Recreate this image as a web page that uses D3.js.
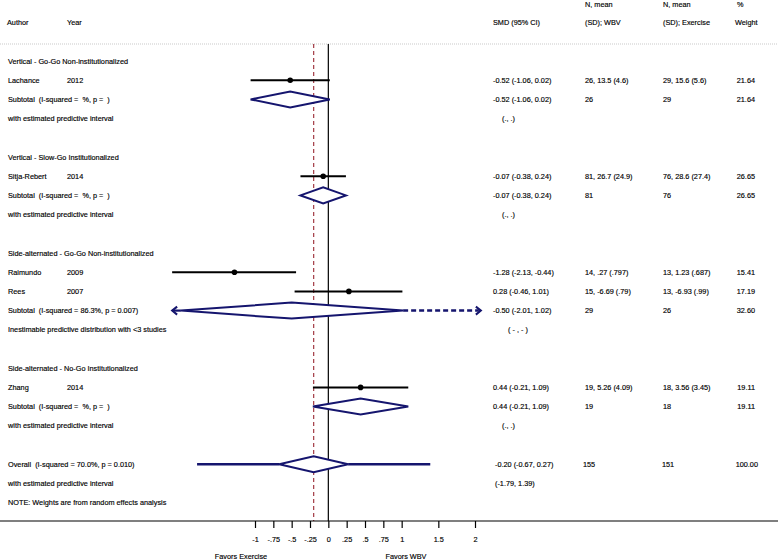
<!DOCTYPE html>
<html><head><meta charset="utf-8">
<script src="https://cdn.jsdelivr.net/npm/d3@7"></script>
<style>
html,body{margin:0;padding:0;background:#fff;}
svg text{font-family:"Liberation Sans",Arial,sans-serif;font-size:7.3px;fill:#000;stroke:#000;stroke-width:0.15px;white-space:pre;}
</style></head>
<body><svg id="chart" width="778" height="560"></svg>
<script>
// ---- data ----
const groupNames = ["Vertical - Go-Go Non-institutionalized","Vertical - Slow-Go Institutionalized","Side-alternated - Go-Go Non-institutionalized","Side-alternated - No-Go Institutionalized"];
const groupRow = [0,5,10,16];

const authors = ["Lachance","Sitja-Rebert","Raimundo","Rees","Zhang"];
const years = ["2012","2014","2009","2007","2014"];
const studySmd = [-0.52,-0.07,-1.28,0.28,0.44];
const studyLo = [-1.06,-0.38,-2.13,-0.46,-0.21];
const studyHi = [0.02,0.24,-0.44,1.01,1.09];
const studyWbv = ["26, 13.5 (4.6)","81, 26.7 (24.9)","14, .27 (.797)","15, -6.69 (.79)","19, 5.26 (4.09)"];
const studyEx = ["29, 15.6 (5.6)","76, 28.6 (27.4)","13, 1.23 (.687)","13, -6.93 (.99)","18, 3.56 (3.45)"];
const studyWeight = ["21.64","26.65","15.41","17.19","19.11"];
const studyRow = [1,6,11,12,17];

const subLabels = ["Subtotal  (I-squared =  %, p =  )","Subtotal  (I-squared =  %, p =  )","Subtotal  (I-squared = 86.3%, p = 0.007)","Subtotal  (I-squared =  %, p =  )"];
const subSmd = [-0.52,-0.07,-0.50,0.44];
const subLo = [-1.06,-0.38,-2.01,-0.21];
const subHi = [0.02,0.24,1.02,1.09];
const subWbv = ["26","81","29","19"];
const subEx = ["29","76","26","18"];
const subWeight = ["21.64","26.65","32.60","19.11"];
const subRow = [2,7,13,18];

const predLabels = ["with estimated predictive interval","with estimated predictive interval","Inestimable predictive distribution with <3 studies","with estimated predictive interval"];
const predTexts = ["(., .)","(., .)","( - , - )","(., .)"];
const predRow = [3,8,14,19];

const overallLabel = "Overall  (I-squared = 70.0%, p = 0.010)";
const overall = {smd:-0.20, lo:-0.67, hi:0.27, predLo:-1.79, predHi:1.39, wbv:"155", ex:"151", weight:"100.00", row:21};
const overallPredLabel = "with estimated predictive interval";
const noteText = "NOTE: Weights are from random effects analysis";

const tickValues = [-1,-0.75,-0.5,-0.25,0,0.25,0.5,0.75,1,1.5,2];
const tickLabels = ["-1","-.75","-.5","-.25","0",".25",".5",".75","1","1.5","2"];

// ---- layout ----
const svg = d3.select("#chart");
const x = d3.scaleLinear().domain([-1,2]).range([255,475]);
const y = d3.scaleLinear().domain([0,23]).range([61,502.6]);
const plotMin = -2.13, plotMax = 2.08;
const navy = "#15156e";
const f2 = v => d3.format(".2f")(v).replace("\u2212","-");
const ciText = (s,l,h)=>`${f2(s)} (${f2(l)}, ${f2(h)})`;
const colSmd = 493, colWbv = 585, colEx = 663, colW = 755;
const axisY = 521, topY = 44;

function txt(t, xx, yy, anchor){
  svg.append("text").attr("x",xx).attr("y",yy).attr("dy","0.35em")
    .attr("xml:space","preserve")
    .attr("text-anchor",anchor||"start").text(t);
}

// header
txt("Author",7,22); txt("Year",67,22);
txt("SMD (95% CI)",493,22);
txt("N, mean",585,4); txt("(SD); WBV",585,22);
txt("N, mean",663,4); txt("(SD); Exercise",663,22);
txt("%",737,4); txt("Weight",735,22);
svg.append("line").attr("x1",0).attr("x2",778).attr("y1",topY).attr("y2",topY)
  .attr("stroke","#bbb").attr("stroke-width",0.8).attr("stroke-dasharray","1,1");

// vertical reference lines
svg.append("line").attr("x1",x(0)).attr("x2",x(0)).attr("y1",topY).attr("y2",axisY)
  .attr("stroke","#000").attr("stroke-width",1.2);
svg.append("line").attr("x1",x(overall.smd)).attr("x2",x(overall.smd)).attr("y1",topY).attr("y2",axisY)
  .attr("stroke","#a33a44").attr("stroke-width",1.2).attr("stroke-dasharray","4,3");

// groups
groupNames.forEach((g,i)=>txt(g,8,y(groupRow[i])));

// studies
authors.forEach((a,i)=>{
  const yy = y(studyRow[i]);
  txt(a,8,yy); txt(years[i],67,yy);
  svg.append("line").attr("x1",x(Math.max(studyLo[i],plotMin))).attr("x2",x(studyHi[i]))
    .attr("y1",yy).attr("y2",yy).attr("stroke","#000").attr("stroke-width",2);
  svg.append("circle").attr("cx",x(studySmd[i])).attr("cy",yy).attr("r",2.8).attr("fill","#000");
  txt(ciText(studySmd[i],studyLo[i],studyHi[i]),colSmd,yy);
  txt(studyWbv[i],colWbv,yy); txt(studyEx[i],colEx,yy);
  txt(studyWeight[i],colW,yy,"end");
});

function diamond(s,l,h,yy,hh){
  const pts = [[x(l),yy],[x(s),yy-hh],[x(h),yy],[x(s),yy+hh]];
  svg.append("path").attr("d","M"+pts.join("L")+"Z").attr("fill","#fff")
    .attr("stroke",navy).attr("stroke-width",2).attr("stroke-linejoin","miter");
}

// subtotals
subLabels.forEach((lab,i)=>{
  const yy = y(subRow[i]);
  txt(lab,8,yy);
  diamond(subSmd[i],subLo[i],subHi[i],yy,8);
  if(subLo[i] < -2){
    svg.append("line").attr("x1",x(plotMin)).attr("x2",x(subLo[i])).attr("y1",yy).attr("y2",yy)
      .attr("stroke",navy).attr("stroke-width",2.2);
    svg.append("path").attr("d",`M${x(plotMin)+5},${yy-4}L${x(plotMin)},${yy}L${x(plotMin)+5},${yy+4}`)
      .attr("fill","none").attr("stroke",navy).attr("stroke-width",2);
    svg.append("line").attr("x1",x(subHi[i])).attr("x2",x(plotMax)-2).attr("y1",yy).attr("y2",yy)
      .attr("stroke",navy).attr("stroke-width",2.5).attr("stroke-dasharray","5,3");
    svg.append("path").attr("d",`M${x(plotMax)-5},${yy-4}L${x(plotMax)},${yy}L${x(plotMax)-5},${yy+4}`)
      .attr("fill","none").attr("stroke",navy).attr("stroke-width",2);
  }
  txt(ciText(subSmd[i],subLo[i],subHi[i]),colSmd,yy);
  txt(subWbv[i],colWbv,yy); txt(subEx[i],colEx,yy);
  txt(subWeight[i],colW,yy,"end");
});

// predictive rows
predLabels.forEach((lab,i)=>{
  const yy = y(predRow[i]);
  txt(lab,8,yy);
  txt(predTexts[i], i===2 ? 508 : 502, yy);
});

// overall
{
  const yy = y(overall.row);
  txt(overallLabel,8,yy);
  svg.append("line").attr("x1",x(overall.predLo)).attr("x2",x(overall.lo)).attr("y1",yy).attr("y2",yy)
    .attr("stroke",navy).attr("stroke-width",2.5);
  svg.append("line").attr("x1",x(overall.hi)).attr("x2",x(overall.predHi)).attr("y1",yy).attr("y2",yy)
    .attr("stroke",navy).attr("stroke-width",2.5);
  diamond(overall.smd,overall.lo,overall.hi,yy,8);
  txt(ciText(overall.smd,overall.lo,overall.hi),495,yy);
  txt(overall.wbv,583,yy); txt(overall.ex,662,yy); txt(overall.weight,colW+3,yy,"end");
  const y2 = y(overall.row+1);
  txt(overallPredLabel,8,y2);
  txt(`(${f2(overall.predLo)}, ${f2(overall.predHi)})`,495,y2);
  txt(noteText,8,y(23));
}

// axis
svg.append("line").attr("x1",0).attr("x2",778).attr("y1",axisY).attr("y2",axisY)
  .attr("stroke","#000").attr("stroke-width",1.2);
const axis = d3.axisBottom(x).tickValues(tickValues)
  .tickFormat((d,i)=>tickLabels[i]).tickSize(7).tickPadding(9);
const g = svg.append("g").attr("transform",`translate(0,${axisY})`).call(axis);
g.select(".domain").remove();
g.selectAll(".tick line").attr("stroke","#000").attr("stroke-width",1.2);
g.selectAll(".tick text").style("font-family","Liberation Sans, Arial, sans-serif").style("font-size","7.3px")
  .style("stroke","#000").style("stroke-width","0.15px");
txt("Favors Exercise",241,556,"middle");
txt("Favors WBV",406,556,"middle");
</script></body></html>
